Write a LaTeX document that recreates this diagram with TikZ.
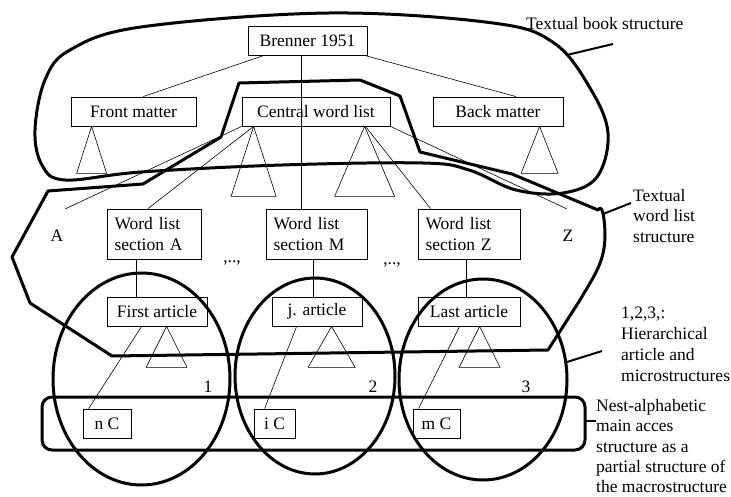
\documentclass[tikz,border=0pt]{standalone}
\usepackage{fontspec}
\setmainfont{Liberation Serif}

\tikzset{
    box/.style={draw, line width=.8pt, minimum height=29pt, inner sep=0pt},
    secbox/.style={box, minimum height=50pt, align=left, inner xsep=7.5pt},
    hull/.style={line width=3pt, line join=round},
    note/.style={align=left, anchor=base west, inner sep=0pt},
}

\begin{document}
\begin{tikzpicture}[x=1pt, y=-1pt, font=\fontsize{17.5}{20.7}\selectfont]
    \useasboundingbox (0,0) rectangle (731,497);

    % book level
    \node[box, minimum width=119pt] (brenner) at (307.5,41) {Brenner 1951};
    \node[box, minimum width=125pt] (front) at (133.5,111.5) {Front matter};
    \node[box, minimum width=148pt] (central) at (316,111.5) {Central word list};
    \node[box, minimum width=130pt] (back) at (498,111.5) {Back matter};

    % word list sections
    \node[secbox, text width=79pt] (secA) at (154,234) {Word list\\section A};
    \node[secbox, text width=86pt] (secM) at (316.5,234) {Word list\\section M};
    \node[secbox, text width=87pt] (secZ) at (469,234) {Word list\\section Z};
    \node (lA) at (57,236) {A};
    \node (lZ) at (568,236) {Z};
    \node[anchor=base] (dots1) at (232,262) {,..,};
    \node[anchor=base] (dots2) at (392,265) {,..,};
    \coordinate (toA) at (65,209);
    \coordinate (toZ) at (567,209);

    % articles
    \node[box, minimum width=100pt] (first) at (157,311.5) {First article};
    \node[box, minimum width=90pt] (jart) at (317,311.5) {j. article};
    \node[box, minimum width=102pt] (last) at (469,311.5) {Last article};
    \node[box, minimum width=48pt] (nC) at (107,423.5) {n C};
    \node[box, minimum width=41pt] (iC) at (274.5,423.5) {i C};
    \node[box, minimum width=47pt] (mC) at (436.5,423.5) {m C};
    \node (n1) at (208,387) {1};
    \node (n2) at (373,387) {2};
    \node (n3) at (526,387) {3};

    % tree lines
    \draw[line width=.6pt] ([xshift=15pt]brenner.south west) -- ([xshift=9.5pt]front.north);
    \draw[line width=.6pt] ([xshift=-1pt]brenner.south east) -- ([xshift=18pt]back.north);
    \draw[line width=.6pt] ([xshift=-6.5pt]brenner.south) -- ([xshift=-15.5pt]secM.north);
    \draw[line width=.6pt] (central.south west) -- (toA);
    \draw[line width=.6pt] ([xshift=12pt]central.south west) -- ([xshift=-6pt]secA.north);
    \draw[line width=.6pt] ([xshift=-25pt]central.south east) -- ([xshift=13pt]secZ.north west);
    \draw[line width=.6pt] (central.south east) -- (toZ);
    \foreach \s/\a/\d in {secA/first/-18, secM/jart/-3.5, secZ/last/-3} {
        \draw[line width=.6pt] ([xshift=\d pt]\s.south) -- ([xshift=\d pt]\s.south |- \a.north);
    }
    \draw[line width=.6pt] ([xshift=35pt]first.south west) -- ([xshift=6pt]nC.north west);
    \draw[line width=.6pt] ([xshift=25pt]jart.south west) -- ([xshift=11pt]iC.north west);
    \draw[line width=.6pt] ([xshift=42pt]last.south west) -- ([xshift=6pt]mC.north west);

    % triangles
    \foreach \nd/\dx/\hw/\ht in {front/21/15/47, central/12/22.5/70, central/123/30/70,
            back/107/18.5/47, first/60/20.5/41, jart/60/23.5/41, last/62/20.5/41} {
        \draw[line width=.6pt] ([xshift=\dx pt]\nd.south west) -- ++(-\hw,\ht) -- ++(2*\hw,0) -- cycle;
    }

    % textual book structure
    \draw[hull] plot[smooth cycle, tension=.6] coordinates {(45,80) (35,130) (42,165) (65,180)
        (141,172) (282,165) (423,163) (469,170) (516,190) (563,193) (597,177) (608,133)
        (590,88) (554,43) (493,23) (329,13) (141,27) (70,50)};

    % textual word list structure
    \draw[hull] (239,83) -- (360,80) -- (400,96) -- (420,152) -- (512,174) -- (598,210)
        to[out=60,in=90] (605,235) to[out=-90,in=60] (580,300) -- (548,350) -- (112,356)
        -- (30,303) -- (12,257) -- (48,191) -- (143,184) -- (221,137) -- cycle;

    % article and microstructures
    \draw[hull] (141.5,379) ellipse [x radius=88.5, y radius=106];
    \draw[hull] (315,376) ellipse [x radius=80, y radius=98];
    \draw[hull] (483,379.5) ellipse [x radius=84, y radius=100.5];

    % main access structure
    \draw[hull, rounded corners=10pt] (42,397) rectangle (585,450);

    % notes (base = last line)
    \node[note] (tbook) at (526,30) {Textual book structure};
    \node[note] (tlist) at (633,242.4) {Textual\\word list\\structure};
    \node[note] (thier) at (621,381) {1,2,3,:\\Hierarchical\\article and\\microstructures};
    \node[note, font=\fontsize{17.5}{20.2}\selectfont] (tnest) at (596,492.5)
        {Nest-alphabetic\\main acces\\structure as a\\partial structure of\\the macrostructure};
    \coordinate (ebook) at (613,44);
    \coordinate (elist) at (631,203);
    \coordinate (ehier) at (602,351);
    \coordinate (enest) at (596,421);
    \draw[line width=2pt] (567,55) -- (ebook);
    \draw[line width=2pt] (603,214) -- (elist);
    \draw[line width=2pt] (567,362) -- (ehier);
    \draw[line width=2pt] (585,421) -- (enest);

\end{tikzpicture}
\end{document}
